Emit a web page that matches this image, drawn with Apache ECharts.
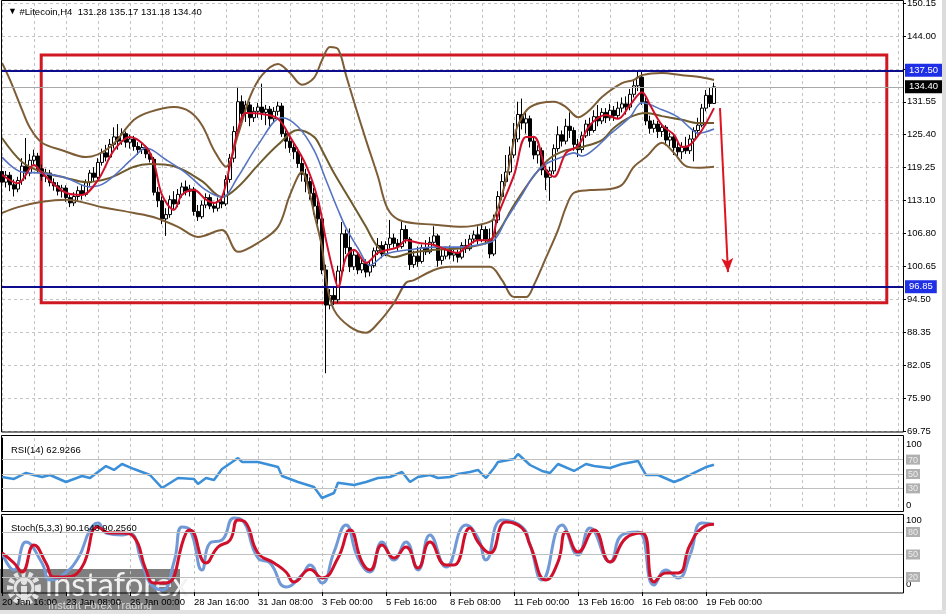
<!DOCTYPE html>
<html><head><meta charset="utf-8">
<script src="https://cdn.jsdelivr.net/npm/echarts/dist/echarts.min.js"></script>
<style>html,body{margin:0;padding:0;background:#fff;}#c{width:946px;height:614px;}</style>
</head><body><div id="c"></div>
<script>
// ---------- DATA ----------
// H4 candles, one per bar: [open, close, low, high]
const candles = [
[118.5,116.5,114.0,119.5],[116.5,117.8,115.5,118.6],[117.8,116.0,114.8,118.4],[116.0,115.2,113.8,117.0],[115.2,116.8,114.6,117.5],
[116.8,119.5,116.0,121.0],[119.5,118.2,117.0,124.8],[118.2,120.6,117.6,121.8],[120.6,121.4,119.5,122.6],[121.4,119.0,118.2,122.0],
[119.0,117.6,116.8,119.8],[117.6,118.2,116.5,119.0],[118.2,116.4,115.7,118.8],[116.4,115.8,114.9,117.2],[115.8,114.8,114.0,116.5],
[114.8,115.4,113.6,116.0],[115.4,113.6,112.8,115.9],[113.6,112.6,111.8,114.2],[112.6,113.8,112.0,114.6],[113.8,114.9,113.0,115.7],
[114.9,114.2,113.2,116.0],[114.2,116.4,113.8,117.0],[116.4,118.2,115.8,118.8],[118.2,117.4,116.6,119.3],[117.4,120.2,117.0,121.0],
[120.2,122.0,119.6,122.8],[122.0,121.2,120.4,123.5],[121.2,123.6,120.8,124.6],[123.6,125.0,122.8,126.8],[125.0,124.2,122.6,127.4],
[124.2,125.6,123.5,126.6],[125.6,124.0,123.0,126.0],[124.0,124.6,122.8,125.4],[124.6,123.2,122.4,125.2],[123.2,122.6,121.6,124.0],
[122.6,123.0,121.8,123.8],[123.0,121.8,121.0,123.4],[121.8,120.8,120.2,122.6],[120.8,114.6,114.0,121.2],[114.6,113.0,111.8,115.6],
[113.0,109.6,108.6,113.8],[109.6,110.4,106.4,111.6],[110.4,113.2,109.8,114.0],[113.2,112.4,111.2,114.8],[112.4,114.2,111.8,115.2],
[114.2,115.6,113.6,116.4],[115.6,114.8,114.0,116.8],[114.8,115.2,113.8,116.0],[115.2,111.0,110.2,115.6],[111.0,110.0,109.2,112.2],
[110.0,112.2,109.6,113.0],[112.2,113.6,111.6,114.4],[113.6,112.0,111.4,114.2],[112.0,111.6,110.8,112.8],[111.6,112.8,111.0,113.6],
[112.8,112.4,111.6,113.4],[112.4,117.0,112.0,117.8],[117.0,121.0,116.4,121.8],[121.0,126.0,120.2,127.0],[126.0,131.6,125.2,134.4],
[131.6,129.4,128.0,132.8],[129.4,131.0,127.8,131.8],[131.0,128.6,127.0,131.6],[128.6,129.8,127.8,130.6],[129.8,130.6,128.6,131.4],
[130.6,129.6,128.2,135.0],[129.6,130.2,127.2,131.0],[130.2,128.4,126.6,130.8],[128.4,129.8,127.6,130.6],[129.8,130.8,129.0,131.6],
[130.8,125.6,125.0,131.4],[125.6,124.2,122.8,126.2],[124.2,123.0,122.0,125.0],[123.0,122.2,120.8,123.8],[122.2,120.0,119.2,123.0],
[120.0,118.0,116.6,121.2],[118.0,116.6,114.6,119.0],[116.6,114.4,113.2,117.4],[114.4,112.0,110.4,115.4],[112.0,109.6,108.6,113.0],
[109.6,100.0,99.2,110.2],[100.0,93.4,80.6,101.0],[93.4,95.2,92.6,96.4],[95.2,94.4,93.4,97.0],[94.4,99.8,93.8,100.8],
[99.8,106.8,99.0,109.0],[106.8,104.2,103.0,107.6],[104.2,100.6,99.6,107.8],[100.6,102.8,100.0,103.6],[102.8,100.0,99.2,103.4],
[100.0,101.2,99.4,102.2],[101.2,99.6,98.6,102.0],[99.6,100.8,98.8,101.8],[100.8,103.6,100.4,104.2],[103.6,104.6,102.8,106.0],
[104.6,103.0,102.2,105.4],[103.0,104.8,102.6,105.4],[104.8,106.0,104.0,109.4],[106.0,105.0,104.2,106.8],[105.0,104.4,103.6,105.8],
[104.4,107.6,104.0,109.2],[107.6,105.8,105.0,108.4],[105.8,101.0,100.0,106.2],[101.0,102.6,100.4,103.6],[102.6,101.6,100.6,104.4],
[101.6,104.2,101.2,104.8],[104.2,103.4,102.8,105.6],[103.4,105.2,103.0,106.2],[105.2,106.4,104.6,108.2],[106.4,101.8,100.6,106.8],
[101.8,102.6,101.0,103.8],[102.6,103.8,102.0,104.4],[103.8,102.8,102.0,104.6],[102.8,103.2,101.6,103.8],[103.2,102.4,101.4,103.8],
[102.4,104.6,102.0,105.2],[104.6,104.0,103.2,105.8],[104.0,105.8,103.6,106.6],[105.8,106.6,105.0,107.4],[106.6,105.6,104.8,108.2],
[105.6,107.6,105.2,108.6],[107.6,105.8,104.8,108.2],[105.8,103.0,102.2,107.8],[103.0,109.4,102.6,110.4],[109.4,113.8,108.8,114.8],
[113.8,116.6,113.2,118.0],[116.6,118.4,115.8,121.6],[118.4,121.6,117.8,123.2],[121.6,124.6,121.0,127.6],[124.6,129.2,124.0,131.6],
[129.2,127.6,126.4,132.2],[127.6,128.4,125.6,129.6],[128.4,124.2,123.0,129.0],[124.2,121.6,120.8,125.2],[121.6,122.4,120.0,123.4],
[122.4,118.8,117.8,123.0],[118.8,117.4,115.0,119.6],[117.4,118.6,113.0,119.4],[118.6,122.8,118.0,123.6],[122.8,125.4,122.2,127.0],
[125.4,124.2,123.2,126.2],[124.2,127.0,123.6,128.4],[127.0,126.2,124.8,129.6],[126.2,123.6,122.4,126.8],[123.6,122.6,121.2,124.6],
[122.6,125.2,122.0,126.0],[125.2,127.4,124.8,128.2],[127.4,126.2,125.2,128.6],[126.2,128.8,125.8,130.0],[128.8,128.0,127.0,131.0],
[128.0,129.6,127.4,130.4],[129.6,128.6,127.6,130.4],[128.6,130.0,128.0,131.2],[130.0,129.0,128.0,130.8],[129.0,130.4,128.4,131.6],
[130.4,131.2,129.6,132.4],[131.2,130.6,129.2,132.6],[130.6,133.0,130.0,134.0],[133.0,134.6,132.4,135.8],[134.6,136.2,133.6,137.2],
[136.2,131.6,131.0,137.4],[131.6,128.0,127.2,132.4],[128.0,126.6,125.6,129.0],[126.6,127.4,125.8,128.2],[127.4,126.0,124.8,128.0],
[126.0,126.8,125.0,127.6],[126.8,124.4,123.4,127.2],[124.4,125.0,123.2,125.8],[125.0,123.0,121.6,125.6],[123.0,122.2,121.0,124.0],
[122.2,123.2,120.8,124.0],[123.2,122.4,121.8,125.0],[122.4,124.6,121.8,125.4],[124.6,126.2,120.4,126.8],[126.2,127.2,125.4,128.6],
[127.2,130.4,126.8,131.2],[130.4,132.8,129.8,133.8],[132.8,131.28,130.6,134.2],[131.28,134.40,131.18,135.17]
];
// indicator lines: [bar index, value]
const upperBand = [[0,138.9],[2,135.7],[5,130.1],[7,126.7],[10,123.9],[15,122.5],[21,121.2],[27,123.1],[33,128.2],[37,129.7],[43,130.6],[47,129.7],[50,127.2],[53,122.5],[56,119.4],[59,125.4],[62,132.5],[65,136.6],[69,138.7],[72,137.0],[75,134.8],[78,136.1],[80,139.4],[82,141.9],[84,141.5],[86,136.6],[88,131.6],[91,124.4],[94,117.5],[96,112.2],[98,110.0],[101,109.0],[108,108.5],[115,108.1],[121,108.8],[123,109.8],[126,116.9],[128,124.4],[129,127.2],[132,130.6],[138,131.6],[141,130.6],[144,128.7],[147,130.1],[150,132.5],[155,135.1],[158,135.7],[160,136.6],[165,137.0],[170,136.6],[174,136.3],[178,135.7]];
const middleBand = [[0,124.8],[5,120.3],[10,118.4],[16,117.3],[21,116.5],[27,117.3],[33,119.4],[37,119.9],[43,119.5],[50,116.7],[55,113.7],[59,115.6],[64,119.7],[69,123.5],[74,126.3],[78,125.0],[80,122.5],[83,118.2],[87,113.2],[91,108.1],[94,104.3],[98,102.4],[102,103.2],[108,103.8],[115,104.1],[121,105.1],[124,107.1],[128,112.2],[133,117.7],[137,121.0],[141,122.5],[145,123.1],[150,124.4],[153,126.7],[157,128.7],[161,129.5],[165,128.9],[170,128.2],[174,127.6],[178,127.6]];
const lowerBand = [[0,110.7],[4,111.8],[10,112.8],[16,113.2],[25,111.8],[33,110.7],[38,109.9],[44,108.1],[49,106.2],[55,107.5],[59,103.4],[64,105.1],[69,108.1],[72,114.1],[75,118.4],[77,114.1],[78,110.7],[80,104.3],[81,98.1],[83,92.5],[87,89.3],[91,88.2],[94,90.0],[98,93.8],[101,97.6],[103,98.1],[108,100.0],[112,100.6],[118,100.6],[122,100.6],[125,98.1],[128,94.9],[131,94.9],[133,97.2],[136,102.3],[139,107.5],[141,111.8],[143,114.5],[147,115.0],[152,115.2],[155,116.0],[158,119.4],[161,121.2],[165,123.9],[168,122.0],[171,119.5],[174,119.2],[178,119.4]];
const slowMA = [[0,121.2],[5,118.4],[10,118.2],[16,117.3],[22,115.6],[26,116.5],[33,121.2],[36,122.9],[41,120.7],[46,118.2],[51,115.0],[55,113.7],[59,117.5],[64,123.5],[70,128.6],[74,126.9],[78,122.5],[81,116.9],[84,111.3],[86,107.9],[89,104.1],[92,100.9],[96,103.0],[102,103.8],[108,104.3],[114,104.3],[119,104.7],[123,105.6],[126,109.4],[130,114.1],[133,117.8],[136,119.9],[140,121.2],[143,122.0],[145,121.4],[148,122.7],[152,125.5],[157,128.7],[160,131.4],[165,130.1],[169,128.7],[172,126.7],[174,125.7],[178,126.5]];
const fastMA = [[0,117.9],[4,116.3],[8,119.7],[10,118.2],[16,114.5],[20,114.1],[24,116.9],[28,122.5],[32,125.0],[36,123.1],[38,120.1],[40,114.1],[43,111.3],[45,114.1],[48,115.0],[51,113.2],[53,112.6],[55,113.7],[57,119.7],[59,126.3],[61,129.5],[65,129.3],[69,128.4],[72,125.0],[76,119.7],[79,113.2],[81,105.6],[83,99.1],[84,96.8],[86,102.4],[88,103.8],[91,101.3],[94,103.2],[99,104.3],[101,105.6],[104,105.1],[108,104.7],[111,103.8],[114,103.2],[116,104.3],[119,105.6],[122,105.6],[124,110.3],[128,117.8],[131,125.0],[133,125.0],[136,118.8],[138,117.5],[141,122.0],[144,123.3],[147,127.2],[151,129.1],[154,128.4],[157,131.0],[160,133.4],[162,131.0],[165,127.2],[168,125.4],[170,123.1],[172,123.5],[175,126.3],[178,130.4]];
const rsi = [[0,45.8],[3,43.1],[6,51.4],[10,45.8],[12,48.6],[16,38.9],[20,47.2],[22,44.4],[26,61.1],[28,55.6],[30,63.9],[33,56.9],[37,48.6],[40,30.6],[44,44.4],[48,43.1],[49,36.1],[51,44.4],[53,41.7],[55,56.9],[59,72.2],[60,66.7],[64,66.7],[69,59.7],[70,47.2],[74,38.9],[78,31.9],[80,16.7],[83,23.6],[84,38.0],[88,34.7],[91,38.9],[94,44.4],[97,45.8],[100,52.8],[102,38.9],[104,45.8],[107,48.6],[109,44.4],[112,45.8],[114,50.0],[117,52.8],[119,55.6],[121,44.4],[123,58.3],[124,66.7],[128,70.8],[129,77.8],[132,62.5],[135,54.2],[137,51.4],[139,63.9],[143,54.2],[146,63.9],[148,61.1],[152,58.3],[155,63.9],[159,68.1],[161,48.6],[164,48.6],[168,38.9],[170,43.1],[173,51.4],[176,59.7],[178,62.93]];
const stochK = [[0,52],[3,29.3],[6,66.7],[10,38.7],[12,16],[15,22],[19,45],[22,82.7],[24,92],[26,78.7],[30,76],[32,78],[35,38.7],[37,12],[40,2.7],[43,40],[45,86.7],[47,82.7],[50,29.3],[52,65.3],[55,69.3],[58,98.7],[60,96],[64,45.3],[67,38.7],[71,6.7],[75,22.7],[77,36],[80,12],[83,53.3],[86,89.3],[89,45.3],[92,26.7],[95,66.7],[98,42.7],[101,66.7],[104,29.3],[107,76],[111,33.3],[116,89.3],[119,72],[121,42.7],[125,96],[130,86.7],[132,62.7],[135,16],[140,89.3],[144,49.3],[147,85.3],[152,40],[155,76],[159,80],[163,9.3],[166,29.3],[169,18.7],[172,49.3],[175,92],[178,90.16]];
const stochD = [[0,52],[3,38.7],[5,26.7],[8,62.7],[11,38.7],[13,20],[16,20],[20,33.3],[24,86.7],[27,78.7],[30,78.7],[33,73.3],[36,29.3],[38,12],[41,12],[46,78.7],[47,82.7],[51,38.7],[54,60],[57,69.3],[59,96],[61,92],[64,52],[68,38.7],[71,26.7],[73,13.3],[77,30],[80,18.7],[84,45.3],[87,82.7],[90,40],[92,29.3],[95,62.7],[98,45.3],[101,60],[104,32],[107,66.7],[111,36],[113,36],[117,85.3],[119,66.7],[122,52],[126,93.3],[130,85.3],[132,62.7],[136,16],[139,40],[141,80],[144,53.3],[148,82.7],[152,40],[156,72],[160,78.7],[163,13.3],[166,25.3],[169,25.3],[172,62.7],[175,85.3],[178,90.26]];
// drawn objects
const levelLines = [137.50, 96.85];
const boxCorners = [[9.8,140.4],[221.2,93.85]];
const arrowPts = [[179.5,130.4],[181.5,99.6]];
// tick labels
const priceTicks = ['69.75','75.90','82.05','88.35','94.50','100.65','106.80','113.10','119.25','125.40','131.55','','144.00','150.15'];
const timeTicks = ['20 Jan 16:00','23 Jan 08:00','26 Jan 00:00','28 Jan 16:00','31 Jan 08:00','3 Feb 00:00','5 Feb 16:00','8 Feb 08:00','11 Feb 00:00','13 Feb 16:00','16 Feb 08:00','19 Feb 00:00'];
const rsiLevels = [30,50,70];
const stochLevels = [20,50,80];
const rsiValue = '62.9266', stochMain = '90.1643', stochSignal = '90.2560';

// ---------- CHART ----------
const FONT = '"Liberation Sans", Arial, sans-serif';
const FS = 9.5;
const XMAX = 225.25;
const last = candles[candles.length-1];
const fmt = v => v.toFixed(2);
const header = `{t|▼} #Litecoin,H4  ${fmt(last[0])} ${fmt(last[3])} ${fmt(last[2])} ${fmt(last[1])}`;

const gridLine = {show:true, lineStyle:{color:'#c4c4c4', type:[3,3], width:1}};
const xAx = (g, extra) => Object.assign({type:'value', gridIndex:g, min:0, max:XMAX, interval:8,
  axisLine:{show:false}, axisTick:{show:false}, axisLabel:{show:false}, splitLine:gridLine}, extra||{});

const lineS = (name, data, color, width, xi, yi, z, smooth) => ({type:'line', name, data, xAxisIndex:xi, yAxisIndex:yi,
  symbol:'none', showSymbol:false, smooth: smooth == null ? 0.35 : smooth, lineStyle:{color, width}, z, silent:true, animation:false});

const subLabel = (levels, topPad, botPad) => ({
  show:true, margin:3, fontSize:9, fontFamily:FONT, color:'#000', hideOverlap:false, showMinLabel:true, showMaxLabel:true,
  formatter: v => v===100 ? '{top|100}' : v===0 ? '{bot|0}' : (levels.includes(v) ? `{lvl|${v}}` : ''),
  rich:{ lvl:{backgroundColor:'#b0b0b0', color:'#eeeeee', padding:[1,2,0,2], fontSize:9, fontFamily:FONT},
         top:{padding:[topPad,0,0,0], fontSize:9.5, fontFamily:FONT, color:'#000'},
         bot:{padding:[0,0,botPad,0], fontSize:9.5, fontFamily:FONT, color:'#000'} }
});
const levelMark = levels => ({silent:true, symbol:['none','none'], animation:false, label:{show:false},
  lineStyle:{color:'#c0c0c0', width:1, type:'solid'}, data: levels.map(v => ({yAxis:v}))});

const priceLabel = (bg) => ({show:true, position:'end', distance:2, formatter: p => fmt(p.value),
  color:'#fff', backgroundColor:bg, padding:[2,4,1,4], fontSize:FS, fontFamily:FONT});

const option = {
  animation:false,
  backgroundColor:'#ffffff',
  title:[
    {text:header, left:3, top:2, textStyle:{fontSize:FS, fontWeight:'normal', color:'#000', fontFamily:FONT,
      rich:{t:{fontSize:9, color:'#000'}}}},
    {text:`RSI(14) ${rsiValue}`, left:6, top:440, textStyle:{fontSize:FS, fontWeight:'normal', color:'#000', fontFamily:FONT}},
    {text:`Stoch(5,3,3) ${stochMain} ${stochSignal}`, left:6, top:518, textStyle:{fontSize:FS, fontWeight:'normal', color:'#000', fontFamily:FONT}}
  ],
  grid:[
    {left:2, top:3, width:901, height:428, outerBoundsMode:'none', containLabel:false},
    {left:2, top:438, width:901, height:72, outerBoundsMode:'none', containLabel:false},
    {left:2, top:517, width:901, height:75, outerBoundsMode:'none', containLabel:false}
  ],
  xAxis:[
    xAx(0), xAx(1),
    xAx(2, {axisLabel:{show:true, align:'left', margin:5, fontSize:FS, fontFamily:FONT, color:'#000', hideOverlap:false,
              customValues: timeTicks.map((t,k)=>k*16),
              formatter: v => { const k = Math.round(v)/16; return Number.isInteger(k) && k < timeTicks.length ? timeTicks[k] : ''; }},
            axisTick:{show:true, length:4, lineStyle:{color:'#000'}, customValues: timeTicks.map((t,k)=>k*16)}})
  ],
  yAxis:[
    {type:'value', gridIndex:0, min:69.75, max:150.15, show:false},
    {type:'value', gridIndex:0, min:0, max:13, interval:1, position:'right',
      axisLine:{show:true, lineStyle:{color:'#000'}}, axisTick:{show:true, length:3, lineStyle:{color:'#000'}},
      axisLabel:{show:true, margin:4, fontSize:FS, fontFamily:FONT, color:'#000', hideOverlap:false, showMinLabel:true, showMaxLabel:true,
        formatter: v => priceTicks[Math.round(v)] || ''},
      splitLine:gridLine},
    {type:'value', gridIndex:1, min:0, max:100, interval:10, position:'right',
      axisLine:{show:true, lineStyle:{color:'#000'}}, axisTick:{show:false}, splitLine:{show:false},
      axisLabel: subLabel(rsiLevels, 12, 10)},
    {type:'value', gridIndex:2, min:0, max:100, interval:10, position:'right',
      axisLine:{show:true, lineStyle:{color:'#000'}}, axisTick:{show:false}, splitLine:{show:false},
      axisLabel: subLabel(stochLevels, 6, 16)}
  ],
  series:[
    {type:'candlestick', name:'Litecoin', xAxisIndex:0, yAxisIndex:0, barWidth:3, z:2, silent:true, animation:false,
      dimensions:['i','open','close','low','high'], encode:{x:'i', y:['open','close','low','high']},
      data: candles.map((c,i)=>[i, c[0], c[1], c[2], c[3]]),
      itemStyle:{color:'#ffffff', color0:'#000000', borderColor:'#000000', borderColor0:'#000000', borderWidth:1}},
    lineS('Upper band', upperBand, '#7d5c36', 2, 0, 0, 3),
    lineS('Lower band', lowerBand, '#7d5c36', 2, 0, 0, 3),
    lineS('Middle band', middleBand, '#6e5a2c', 2, 0, 0, 3),
    lineS('Slow MA', slowMA, '#5573c2', 1.6, 0, 0, 4),
    lineS('Fast MA', fastMA, '#d0102a', 2, 0, 0, 5),
    {type:'line', name:'objects', xAxisIndex:0, yAxisIndex:0, data:[], z:8, silent:true, animation:false,
      markArea:{silent:true, animation:false,
        itemStyle:{color:'rgba(0,0,0,0)', borderColor:'#cf1822', borderWidth:3},
        data:[[{coord:boxCorners[0]},{coord:boxCorners[1]}]]},
      markLine:{silent:true, animation:false, symbol:['none','none'],
        data:[
          {yAxis:levelLines[0], lineStyle:{color:'#0c0c8c', width:2, type:'solid'}, label:priceLabel('#1f2fe6')},
          {yAxis:levelLines[1], lineStyle:{color:'#0c0c8c', width:2, type:'solid'}, label:priceLabel('#1f2fe6')},
          {yAxis:last[1], lineStyle:{color:'#a8a8a8', width:1, type:'solid'}, label:priceLabel('#000000')},
          [{coord:arrowPts[0], symbol:'none', lineStyle:{color:'#e01420', width:2, type:'solid'}, label:{show:false}},
           {coord:arrowPts[1], symbol:'arrow', symbolSize:[9,14]}]
        ]}},
    Object.assign(lineS('RSI', rsi, '#3a8fd8', 2.5, 1, 2, 3, false), {markLine: levelMark(rsiLevels)}),
    Object.assign(lineS('Stoch %K', stochK, '#7099d6', 3, 2, 3, 3, 0.5), {markLine: levelMark(stochLevels)}),
    lineS('Stoch %D', stochD, '#d0102a', 3, 2, 3, 4, 0.5)
  ],
  graphic:[
    {type:'rect', silent:true, z:50, shape:{x:1.5, y:0.5, width:902, height:431.5}, style:{fill:null, stroke:'#000', lineWidth:1}},
    {type:'rect', silent:true, z:50, shape:{x:1.5, y:435.5, width:902, height:76}, style:{fill:null, stroke:'#000', lineWidth:1}},
    {type:'rect', silent:true, z:50, shape:{x:1.5, y:514.5, width:902, height:78.5}, style:{fill:null, stroke:'#000', lineWidth:1}},
    {type:'rect', silent:true, z:50, shape:{x:942, y:0, width:4, height:614}, style:{fill:'#dcdcdc'}},
    {type:'rect', silent:true, z:50, shape:{x:0, y:610, width:946, height:4}, style:{fill:'#e2e2e2'}},
    {type:'group', left:0, top:569, z:100, silent:true, children:[
      {type:'rect', shape:{x:0, y:0, width:180, height:45}, style:{fill:'rgba(72,72,72,0.7)'}},
      {type:'circle', shape:{cx:24, cy:19, r:14}, style:{fill:null, stroke:'#e4e4e4', lineWidth:6, lineDash:[4,3]}},
      {type:'circle', shape:{cx:24, cy:19, r:9}, style:{fill:null, stroke:'#e4e4e4', lineWidth:3}},
      {type:'circle', shape:{cx:24, cy:13, r:3}, style:{fill:'#e4e4e4'}},
      {type:'rect', shape:{x:21, y:17, width:6, height:17}, style:{fill:'#e4e4e4'}},
      {type:'text', style:{text:'instaforex', x:45, y:0, font:'33px Lato, "Open Sans", sans-serif', fill:'#f2f2f2'}},
      {type:'text', style:{text:'Instant Forex Trading', x:48, y:31, font:'11px "Liberation Sans", Arial, sans-serif', fill:'#dadada'}}
    ]}
  ]
};
const chart = echarts.init(document.getElementById('c'), null, {renderer:'canvas', width:946, height:614});
chart.setOption(option);
</script>
</body></html>
